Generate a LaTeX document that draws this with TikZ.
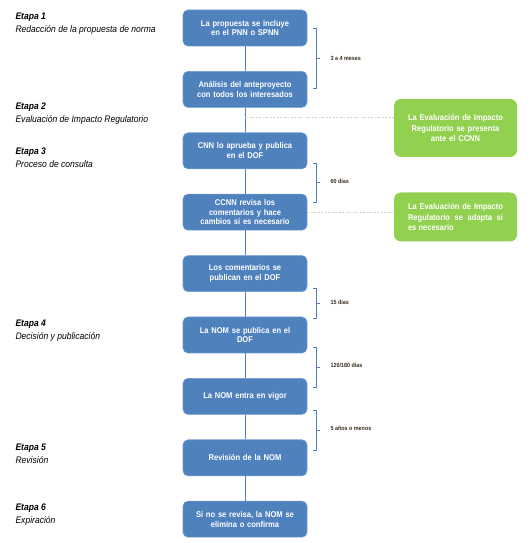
\documentclass[tikz,border=0pt]{standalone}
\usepackage{fontspec}
\setmainfont{Liberation Sans}[FakeStretch=0.9]
\usepackage{tikz}
\usetikzlibrary{arrows,positioning}

\definecolor{pasoazul}{HTML}{4F81BD}
\definecolor{bordeazul}{HTML}{6D9AD0}
\definecolor{evalverde}{HTML}{92D050}
\definecolor{punteado}{HTML}{D8D2BC}
\definecolor{plazo}{HTML}{3A2E1E}

\hyphenpenalty=10000
\exhyphenpenalty=10000

\begin{document}
\begin{tikzpicture}[x=1pt,y=1pt,node distance=61.4pt,
                    paso/.style={draw=bordeazul,fill=pasoazul,rounded corners=5pt,
                      minimum width=124pt,minimum height=36pt,text width=114pt,
                      align=center,text=white,line width=0.6pt,
                      font=\fontsize{8.4}{9.7}\selectfont\bfseries},
                    eval/.style={fill=evalverde,rounded corners=7pt,
                      minimum width=123pt,text width=95pt,text=white,
                      font=\fontsize{8.4}{10.5}\selectfont\bfseries},
                    etapa/.style={anchor=west,align=left,
                      font=\fontsize{9.5}{13}\selectfont\itshape},
                    liga/.style={draw=pasoazul,line width=0.8pt},
                    rayas/.style={draw=punteado,line width=0.8pt,dash pattern=on 2pt off 1.5pt},
                    llave/.style={draw=pasoazul,line width=0.7pt},
                    dias/.style={anchor=west,text=plazo,font=\fontsize{6}{7}\selectfont\bfseries}]

  \useasboundingbox (0,0) rectangle (532,543);

  % pasos
  \node[paso] (0) at (245,515) {La propuesta se incluye\\en el PNN o SPNN};
  \node[paso]         (1) [below of=0] {An\'alisis del anteproyecto\\con todos los interesados};
  \node[paso]         (2) [below of=1] {CNN lo aprueba y publica\\en el DOF};
  \node[paso]         (3) [below of=2] {CCNN revisa los\\comentarios y hace\\cambios si es necesario};
  \node[paso]         (4) [below of=3] {Los comentarios se\\publican en el DOF};
  \node[paso]         (5) [below of=4] {La NOM se publica en el\\DOF};
  \node[paso]         (6) [below of=5] {La NOM entra en vigor};
  \node[paso]         (7) [below of=6] {Revisi\'on de la NOM};
  \node[paso]         (8) [below of=7] {Si no se revisa, la NOM se\\elimina o confirma};

  % evaluacion
  \node[eval,minimum height=58pt,align=center] (g1) at (455.5,415) {La Evaluaci\'on de Impacto\\Regulatorio se presenta\\ante el CCNN};
  \node[eval,minimum height=49pt,align=justify] (g2) at (455.5,326) {La Evaluaci\'on de Impacto Regulatorio se adapta si es necesario};

  % etapas
  \node[etapa] (e1) at (12,519.5) {\textbf{Etapa 1}\\Redacci\'on de la propuesta de norma};
  \node[etapa] (e2) at (12,429.5) {\textbf{Etapa 2}\\Evaluaci\'on de Impacto Regulatorio};
  \node[etapa] (e3) at (12,385.5) {\textbf{Etapa 3}\\Proceso de consulta};
  \node[etapa] (e4) at (12,212.5) {\textbf{Etapa 4}\\Decisi\'on y publicaci\'on};
  \node[etapa] (e5) at (12,89.5) {\textbf{Etapa 5}\\Revisi\'on};
  \node[etapa] (e6) at (12,28.5) {\textbf{Etapa 6}\\Expiraci\'on};

  \path[liga] (0) edge (1)
              (1) edge (2)
              (2) edge (3)
              (3) edge (4)
              (4) edge (5)
              (5) edge (6)
              (6) edge (7)
              (7) edge (8);

  \coordinate (d1) at (245,426);
  \draw[rayas] (d1) -- (d1 -| g1.west);
  \draw[rayas] (3.east) -- (3.east -| g2.west);

  % plazos
  \draw[llave] (313,515) -- (316,515) -- (316,455) -- (313,455) (316,485) -- (320,485);
  \node[dias] (p1) at (327,485) {3 a 4 meses};
  \draw[llave] (313,380) -- (316,380) -- (316,341) -- (313,341) (316,360.5) -- (320,360.5);
  \node[dias] (p2) at (327,362) {60 d\'ias};
  \draw[llave] (313,255) -- (316,255) -- (316,225) -- (313,225) (316,240) -- (320,240);
  \node[dias] (p3) at (327,241) {15 d\'ias};
  \draw[llave] (313,196) -- (316,196) -- (316,156) -- (313,156) (316,176) -- (320,176);
  \node[dias] (p4) at (327,178) {120/180 d\'ias};
  \draw[llave] (313,133) -- (316,133) -- (316,93) -- (313,93) (316,113) -- (320,113);
  \node[dias] (p5) at (327,115) {5 a\~nos o menos};

\end{tikzpicture}
\end{document}
